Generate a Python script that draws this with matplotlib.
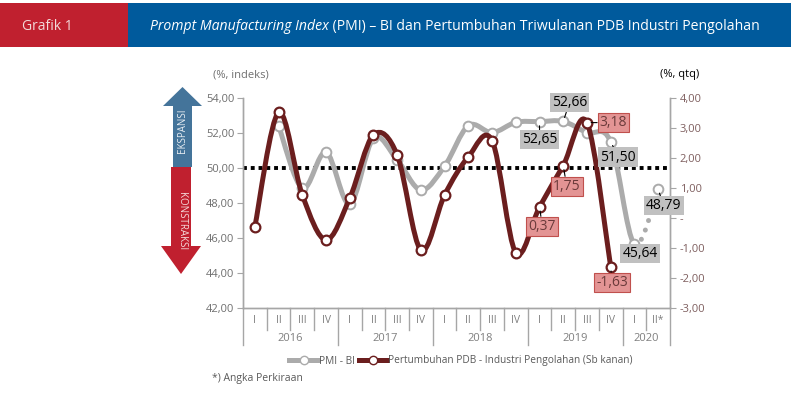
import numpy as np
import matplotlib
matplotlib.use("Agg")
import matplotlib.pyplot as plt
from matplotlib.path import Path
from matplotlib.patches import PathPatch, Polygon, Rectangle
from matplotlib.lines import Line2D
import matplotlib.transforms as mtransforms

plt.rcParams['font.family'] = ['Open Sans', 'DejaVu Sans']

# ---------------- data ----------------
quarters = ["I", "II", "III", "IV", "I", "II", "III", "IV", "I", "II", "III", "IV",
            "I", "II", "III", "IV", "I", "II*"]
years = ["2016", "2017", "2018", "2019", "2020"]
year_sizes = [4, 4, 4, 4, 2]
pmi = [np.nan, 52.42, 48.84, 50.90, 47.94, 51.70, 50.46, 48.74, 50.11, 52.42,
       52.02, 52.61, 52.65, 52.66, 52.02, 51.50, 45.64, 48.79]
pdb = [-0.29, 3.52, 0.77, -0.73, 0.66, 2.77, 2.10, -1.07, 0.77, 2.04, 2.58, -1.16,
       0.37, 1.75, 3.18, -1.63, np.nan, np.nan]
threshold = 50.0
left_ticks = [42, 44, 46, 48, 50, 52, 54]
right_ticks = [-3, -2, -1, 0, 1, 2, 3, 4]
pmi_labels = {12: "52,65", 13: "52,66", 15: "51,50", 16: "45,64", 17: "48,79"}
pdb_labels = {12: "0,37", 13: "1,75", 14: "3,18", 15: "-1,63"}

# ---------------- figure ----------------
W, H = 791, 396
fig = plt.figure(figsize=(W / 100, H / 100), dpi=100)
fig.patch.set_facecolor("white")


def fx(x):
    return x / W


def fy(y):
    return 1 - y / H


# header
fig.add_artist(Rectangle((fx(0), fy(47)), fx(128), 44 / H, transform=fig.transFigure,
                         facecolor="#C0202F", edgecolor="none"))
fig.add_artist(Rectangle((fx(128), fy(47)), fx(W - 128), 44 / H, transform=fig.transFigure,
                         facecolor="#005A9C", edgecolor="none"))
fig.text(fx(22), fy(26), "Grafik 1", color="#F2DADA", fontsize=10, va="center", ha="left")
t1 = fig.text(fx(150), fy(26), "Prompt Manufacturing Index", color="white", fontsize=10.1,
              va="center", ha="left", style="italic")
r = fig.canvas.get_renderer()
bb = t1.get_window_extent(renderer=r)
fig.text(bb.x1 / W, fy(26), " (PMI) \u2013 BI dan Pertumbuhan Triwulanan PDB Industri Pengolahan",
         color="white", fontsize=10.1, va="center", ha="left")

# axes
L, R, T, B = 243, 670, 98, 308
ax = fig.add_axes([fx(L), fy(B), (R - L) / W, (B - T) / H])
ax2 = ax.twinx()
n = len(quarters)
x = np.arange(n)
ax.set_xlim(-0.5, n - 0.5)
ax.set_ylim(min(left_ticks), max(left_ticks))
ax2.set_ylim(min(right_ticks), max(right_ticks))
for a in (ax, ax2):
    a.set_facecolor("none")
    a.spines["top"].set_visible(False)
    for s in ("left", "right", "bottom"):
        a.spines[s].set_color("#A6A6A6")
        a.spines[s].set_linewidth(1.0)

ax.set_yticks(left_ticks)
ax.set_yticklabels([f"{v:.2f}".replace(".", ",") for v in left_ticks])
ax2.set_yticks(right_ticks)
ax2.set_yticklabels(["-" if v == 0 else f"{v:.2f}".replace(".", ",") for v in right_ticks])
ax.tick_params(axis="y", length=4, color="#A6A6A6", labelsize=8, labelcolor="#6F6F6F", pad=2)
ax2.tick_params(axis="y", length=4, color="#A6A6A6", labelsize=8, labelcolor="#7F5F5F", pad=3)
ax.set_xticks(x)
ax.set_xticklabels([])
ax.tick_params(axis="x", length=0)

# two-level category axis
tr = mtransforms.blended_transform_factory(ax.transData, ax.transAxes)
for i, q in enumerate(quarters):
    ax.text(i, -0.058, q, transform=tr, ha="center", va="center", fontsize=7.5, color="#7F7F7F")
bounds = [-0.5]
for s in year_sizes:
    bounds.append(bounds[-1] + s)
for j, yr in enumerate(years):
    ax.text((bounds[j] + bounds[j + 1]) / 2, -0.143, yr, transform=tr, ha="center",
            va="center", fontsize=8, color="#7F7F7F")
for k in range(n + 1):
    bx = k - 0.5
    bottom = -0.178 if bx in bounds else -0.105
    ax.plot([bx, bx], [0, bottom], transform=tr, color="#A6A6A6", lw=1.0, clip_on=False)

# threshold line
ax.axhline(threshold, color="black", lw=2.8, linestyle=(0, (1, 1)), zorder=1)


def segments(xs, ys):
    pts = [np.array([a, b]) for a, b in zip(xs, ys) if not np.isnan(b)]
    segs = []
    m = len(pts)
    for i in range(m - 1):
        p0 = pts[i - 1] if i > 0 else pts[i]
        p1, p2 = pts[i], pts[i + 1]
        p3 = pts[i + 2] if i + 2 < m else pts[i + 1]
        c1 = p1 + (p2 - p0) / 6
        c2 = p2 - (p3 - p1) / 6
        segs.append((p1, c1, c2, p2))
    return segs


def make_path(segs):
    verts = [segs[0][0]]
    codes = [Path.MOVETO]
    for s in segs:
        verts += [s[1], s[2], s[3]]
        codes += [Path.CURVE4] * 3
    return Path(verts, codes)


gray = "#ABABAB"
brown = "#6B1E1E"

gsegs = segments(x, pmi)
ax.add_patch(PathPatch(make_path(gsegs[:-1]), fill=False, edgecolor=gray, lw=3.6,
                       capstyle="round", joinstyle="round", zorder=2))
ax.add_patch(PathPatch(make_path(gsegs[-1:]), fill=False, edgecolor=gray, lw=3.6,
                       capstyle="round", linestyle=(0, (0.01, 2.0)), zorder=2))
ax.plot(x, pmi, linestyle="none", marker="o", ms=7, mfc="white", mec=gray, mew=1.4, zorder=3)

bsegs = segments(x, pdb)
ax2.add_patch(PathPatch(make_path(bsegs), fill=False, edgecolor=brown, lw=3.6,
                        capstyle="round", joinstyle="round", zorder=2))
ax2.plot(x, pdb, linestyle="none", marker="o", ms=7, mfc="white", mec=brown, mew=1.6, zorder=3)

# labels
pmi_off = {12: (0, -13), 13: (4.5, 13.5), 15: (5.5, -11), 16: (4, -6.5), 17: (4, -12)}
pdb_off = {12: (2, -14), 13: (2.5, -15), 14: (19, 0), 15: (1, -11)}
for i, txt in pmi_labels.items():
    ax2.annotate(txt, xy=(i, pmi[i]), xycoords=ax.transData, xytext=pmi_off[i],
                 textcoords="offset points", ha="center", va="center", fontsize=10,
                 color="black", zorder=5,
                 bbox=dict(boxstyle="square,pad=0.15", facecolor="#C0C0C0", edgecolor="none"),
                 arrowprops=dict(arrowstyle="-", color="black", lw=0.8, shrinkA=0, shrinkB=3))
for i, txt in pdb_labels.items():
    ax2.annotate(txt, xy=(i, pdb[i]), xycoords=ax2.transData, xytext=pdb_off[i],
                 textcoords="offset points", ha="center", va="center", fontsize=10,
                 color="#6A3A3A", zorder=5,
                 bbox=dict(boxstyle="square,pad=0.15", facecolor="#E39494", edgecolor="#C0504D",
                           lw=0.8),
                 arrowprops=dict(arrowstyle="-", color="black", lw=0.8, shrinkA=0, shrinkB=3))

# axis unit labels
fig.text(fx(213), fy(75), "(%, indeks)", fontsize=8, color="#6F6F6F", ha="left", va="center")
fig.text(fx(660), fy(75), "(%, qtq)", fontsize=8, color="black", ha="left", va="center")

# arrows
blue_arrow = [(182.5, 87), (202, 106), (192, 106), (192, 167), (173, 167), (173, 106), (163, 106)]
red_arrow = [(171, 167), (191, 167), (191, 246), (201, 246), (181, 274), (161, 246), (171, 246)]
fig.add_artist(Polygon([(fx(a), fy(b)) for a, b in blue_arrow], closed=True,
                       transform=fig.transFigure, facecolor="#44749A", edgecolor="none"))
fig.add_artist(Polygon([(fx(a), fy(b)) for a, b in red_arrow], closed=True,
                       transform=fig.transFigure, facecolor="#C0202F", edgecolor="none"))
fig.text(fx(182.5), fy(131), "EKSPANSI", rotation=90, color="#E8EEF3", fontsize=7,
         ha="center", va="center")
fig.text(fx(181), fy(221), "KONSTRAKSI", rotation=270, color="#F5DADA", fontsize=7,
         ha="center", va="center")

# legend
handles = [Line2D([], [], color=gray, lw=3.6, marker="o", ms=6, mfc="white", mec=gray),
           Line2D([], [], color=brown, lw=3.6, marker="o", ms=6, mfc="white", mec=brown)]
fig.legend(handles, ["PMI - BI", "Pertumbuhan PDB - Industri Pengolahan (Sb kanan)"],
           loc="center", bbox_to_anchor=(fx(461), fy(361)), ncol=2, frameon=False,
           fontsize=7.3, handlelength=2.8, handletextpad=0.1, columnspacing=0.4,
           labelcolor="#595959", borderaxespad=0, borderpad=0)
fig.text(fx(212), fy(378), "*) Angka Perkiraan", fontsize=7.5, color="#595959", ha="left",
         va="center")

fig.savefig("out.png", dpi=100)
